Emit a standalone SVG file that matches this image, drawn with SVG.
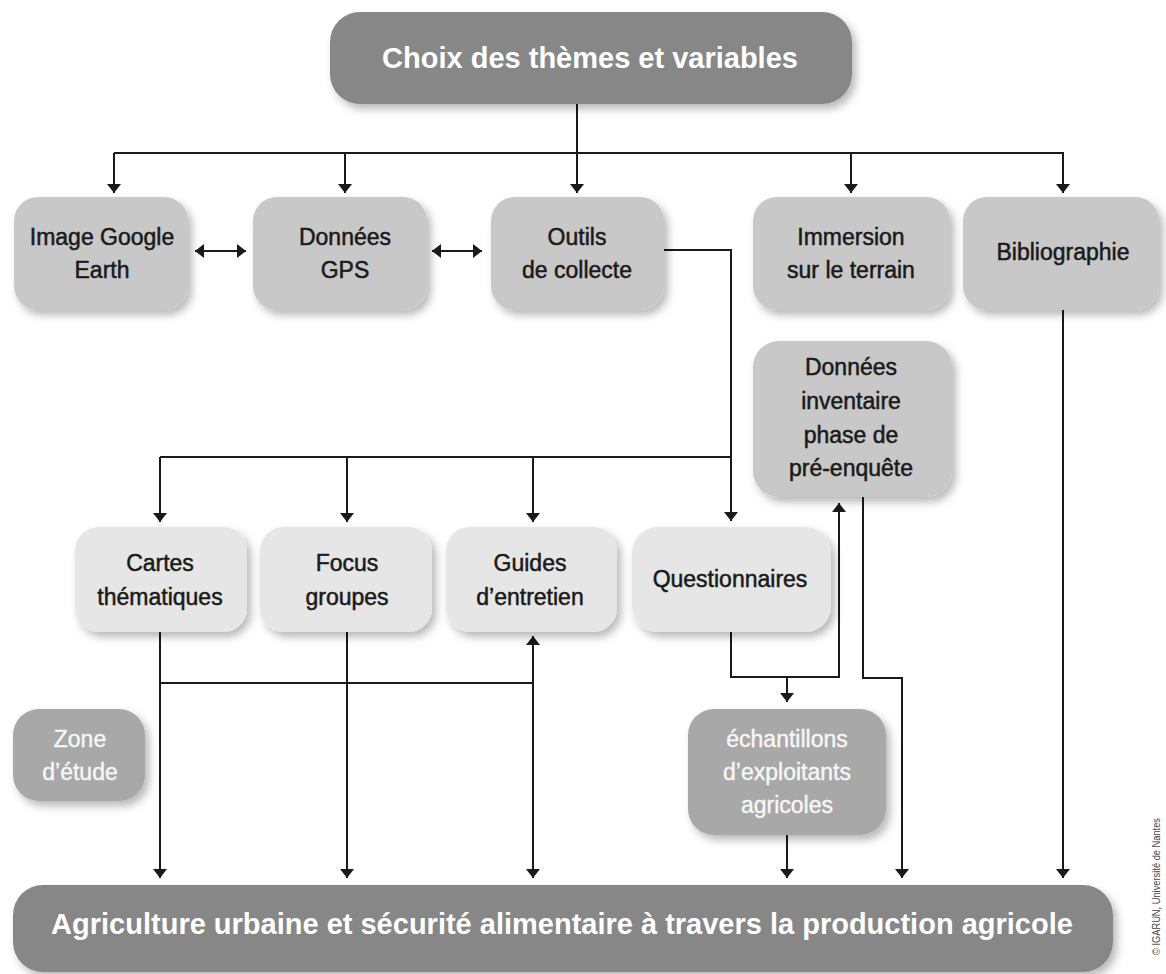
<svg xmlns="http://www.w3.org/2000/svg" width="1166" height="974" viewBox="0 0 1166 974">
  <style>
    .lbl { font-family: "Liberation Sans", Arial, sans-serif; font-size: 23px; fill: #1a1a1a; stroke: #1a1a1a; stroke-width: 0.5; text-anchor: middle; }
    .wlbl { font-family: "Liberation Sans", Arial, sans-serif; font-size: 23px; fill: #f7f7f7; stroke: #f7f7f7; stroke-width: 0.4; text-anchor: middle; }
    .big { font-family: "Liberation Sans", Arial, sans-serif; font-size: 29px; font-weight: bold; fill: #ffffff; text-anchor: middle; }
    .dark { fill: #878787; }
    .mid { fill: #c8c8c8; }
    .light { fill: #e6e6e6; }
    .grey { fill: #a8a8a8; }
    .conn { fill: none; stroke: #1a1a1a; stroke-width: 2; }
    .credit { font-family: "Liberation Sans", Arial, sans-serif; font-size: 11px; fill: #444444; }
  </style>
  <defs>
    <filter id="sh" x="-20%" y="-20%" width="150%" height="160%">
      <feDropShadow dx="4" dy="5" stdDeviation="4" flood-color="#000000" flood-opacity="0.28"/>
    </filter>
    <marker id="at" markerUnits="userSpaceOnUse" markerWidth="10" markerHeight="14" viewBox="0 0 10 14" refX="9" refY="7" orient="auto-start-reverse">
      <path d="M0,0 L9,7 L0,14 Z" fill="#1a1a1a"/>
    </marker>
  </defs>
  <rect width="1166" height="974" fill="#ffffff"/>

  <g id="connectors">
    <line class="conn" x1="577" y1="104" x2="577" y2="153"/>
    <line class="conn" x1="114" y1="153" x2="1064" y2="153"/>
    <line class="conn" x1="114" y1="153" x2="114" y2="193" marker-end="url(#at)"/>
    <line class="conn" x1="345" y1="153" x2="345" y2="193" marker-end="url(#at)"/>
    <line class="conn" x1="577" y1="153" x2="577" y2="193" marker-end="url(#at)"/>
    <line class="conn" x1="851" y1="153" x2="851" y2="193" marker-end="url(#at)"/>
    <line class="conn" x1="1063" y1="153" x2="1063" y2="193" marker-end="url(#at)"/>
    <line class="conn" x1="195" y1="251" x2="246" y2="251" marker-start="url(#at)" marker-end="url(#at)"/>
    <line class="conn" x1="432" y1="251" x2="482" y2="251" marker-start="url(#at)" marker-end="url(#at)"/>
    <polyline class="conn" points="664,250 731,250 731,521" marker-end="url(#at)"/>
    <line class="conn" x1="160" y1="457" x2="731" y2="457"/>
    <line class="conn" x1="160" y1="457" x2="160" y2="522" marker-end="url(#at)"/>
    <line class="conn" x1="347" y1="457" x2="347" y2="522" marker-end="url(#at)"/>
    <line class="conn" x1="533" y1="457" x2="533" y2="522" marker-end="url(#at)"/>
    <line class="conn" x1="160" y1="632" x2="160" y2="878" marker-end="url(#at)"/>
    <line class="conn" x1="347" y1="632" x2="347" y2="878" marker-end="url(#at)"/>
    <line class="conn" x1="533" y1="636" x2="533" y2="878" marker-start="url(#at)" marker-end="url(#at)"/>
    <line class="conn" x1="160" y1="683" x2="533" y2="683"/>
    <polyline class="conn" points="731,632 731,677 839,677 839,503" marker-end="url(#at)"/>
    <line class="conn" x1="787" y1="677" x2="787" y2="702" marker-end="url(#at)"/>
    <line class="conn" x1="787" y1="835" x2="787" y2="878" marker-end="url(#at)"/>
    <polyline class="conn" points="863,497 863,678 902,678 902,878" marker-end="url(#at)"/>
    <line class="conn" x1="1063" y1="310" x2="1063" y2="878" marker-end="url(#at)"/>
  </g>

  <g id="n-choix">
    <rect class="dark" x="330" y="12" width="522" height="92" rx="30" filter="url(#sh)"/>
    <text class="big" x="590" y="68">Choix des thèmes et variables</text>
  </g>

  <g id="n-google">
    <rect class="mid" x="14" y="197" width="174" height="113" rx="24" filter="url(#sh)"/>
    <text class="lbl" x="102" y="245">Image Google</text>
    <text class="lbl" x="102" y="278">Earth</text>
  </g>
  <g id="n-gps">
    <rect class="mid" x="253" y="197" width="174" height="113" rx="24" filter="url(#sh)"/>
    <text class="lbl" x="345" y="245">Données</text>
    <text class="lbl" x="345" y="278">GPS</text>
  </g>
  <g id="n-outils">
    <rect class="mid" x="491" y="197" width="173" height="113" rx="24" filter="url(#sh)"/>
    <text class="lbl" x="577" y="245">Outils</text>
    <text class="lbl" x="577" y="278">de collecte</text>
  </g>
  <g id="n-immersion">
    <rect class="mid" x="753" y="197" width="197" height="113" rx="24" filter="url(#sh)"/>
    <text class="lbl" x="851" y="245">Immersion</text>
    <text class="lbl" x="851" y="278">sur le terrain</text>
  </g>
  <g id="n-biblio">
    <rect class="mid" x="963" y="197" width="196" height="113" rx="24" filter="url(#sh)"/>
    <text class="lbl" x="1063" y="260">Bibliographie</text>
  </g>

  <g id="n-inventaire">
    <rect class="mid" x="753" y="341" width="199" height="156" rx="26" filter="url(#sh)"/>
    <text class="lbl" x="851" y="375">Données</text>
    <text class="lbl" x="851" y="409">inventaire</text>
    <text class="lbl" x="851" y="443">phase de</text>
    <text class="lbl" x="851" y="476">pré-enquête</text>
  </g>

  <g id="n-cartes">
    <rect class="light" x="75" y="527" width="172" height="105" rx="24" filter="url(#sh)"/>
    <text class="lbl" x="160" y="571">Cartes</text>
    <text class="lbl" x="160" y="605">thématiques</text>
  </g>
  <g id="n-focus">
    <rect class="light" x="260" y="527" width="172" height="105" rx="24" filter="url(#sh)"/>
    <text class="lbl" x="347" y="571">Focus</text>
    <text class="lbl" x="347" y="605">groupes</text>
  </g>
  <g id="n-guides">
    <rect class="light" x="446" y="527" width="171" height="105" rx="24" filter="url(#sh)"/>
    <text class="lbl" x="530" y="571">Guides</text>
    <text class="lbl" x="530" y="605">d’entretien</text>
  </g>
  <g id="n-questionnaires">
    <rect class="light" x="632" y="527" width="199" height="105" rx="26" filter="url(#sh)"/>
    <text class="lbl" x="730" y="587">Questionnaires</text>
  </g>

  <g id="n-zone">
    <rect class="grey" x="13" y="709" width="132" height="92" rx="26" filter="url(#sh)"/>
    <text class="wlbl" x="80" y="747">Zone</text>
    <text class="wlbl" x="80" y="780">d’étude</text>
  </g>
  <g id="n-echantillons">
    <rect class="grey" x="688" y="709" width="198" height="126" rx="26" filter="url(#sh)"/>
    <text class="wlbl" x="787" y="747">échantillons</text>
    <text class="wlbl" x="787" y="780">d’exploitants</text>
    <text class="wlbl" x="787" y="813">agricoles</text>
  </g>

  <g id="n-agriculture">
    <rect class="dark" x="13" y="885" width="1100" height="87" rx="30" filter="url(#sh)"/>
    <text class="big" x="562" y="934">Agriculture urbaine et sécurité alimentaire à travers la production agricole</text>
  </g>

  <text class="credit" transform="translate(1160,955) rotate(-90)" textLength="137" lengthAdjust="spacingAndGlyphs">© IGARUN, Université de Nantes</text>
</svg>
